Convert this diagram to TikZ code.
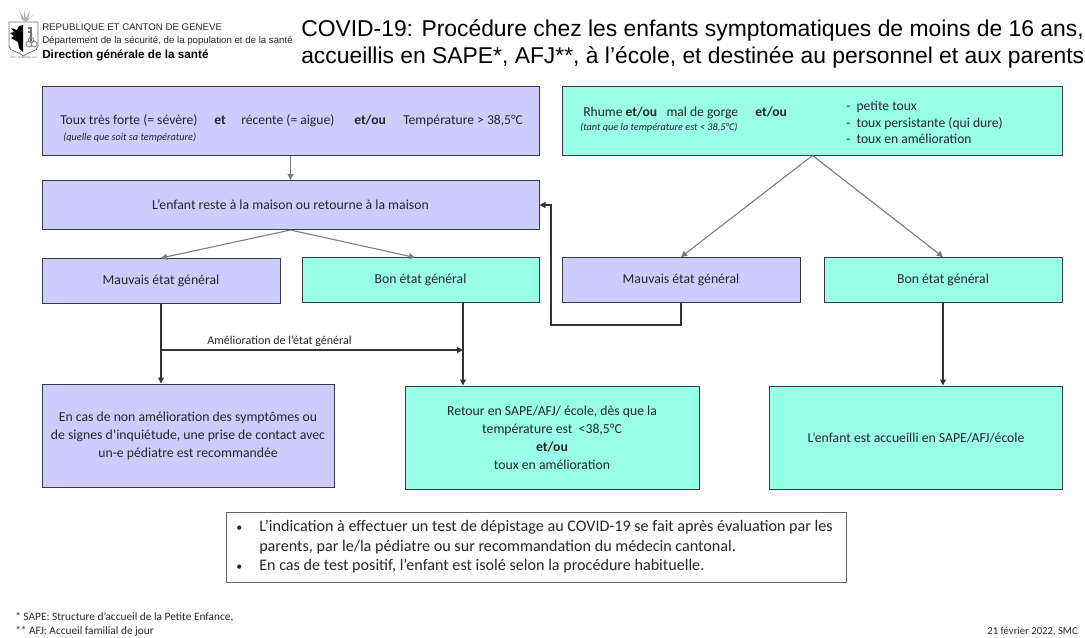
\documentclass[tikz,border=0pt]{standalone}
\usepackage{fontspec}
\setmainfont{Carlito}
\newfontfamily\arialf{Liberation Sans}
\usetikzlibrary{arrows.meta}
\definecolor{lilac}{HTML}{CCCCFF}
\definecolor{mint}{HTML}{99FFE6}
\definecolor{ink}{HTML}{262626}
\definecolor{edge}{HTML}{3A3A44}
\definecolor{grayline}{HTML}{7A7A7A}
\definecolor{darkline}{HTML}{333333}
\tikzset{
  x=0.75pt,y=-0.75pt,
  sz/.style 2 args={minimum width=#1*0.75pt,minimum height=#2*0.75pt},
  base/.style={draw=edge,line width=0.75pt,inner sep=0pt,align=center,text=ink,font=\fontsize{10.3}{13.4}\selectfont},
  lilacbox/.style={base,fill=lilac},
  mintbox/.style={base,fill=mint},
  txt/.style={anchor=base west,inner sep=0pt,text=ink,font=\fontsize{10.2}{12}\selectfont},
  boldtxt/.style={txt,font=\bfseries\fontsize{10.2}{12}\selectfont},
  smalltxt/.style={anchor=base west,inner sep=0pt,text=ink,font=\fontsize{7.7}{9}\itshape\selectfont},
  softarrow/.style={draw=grayline,line width=0.8pt,-{Triangle[length=4.5pt,width=4.5pt]}},
  hardarrow/.style={draw=darkline,line width=0.8pt,-{Triangle[length=4.5pt,width=4.5pt]}},
  headtxt/.style={anchor=west,inner sep=0pt,text=ink,font=\arialf\fontsize{7.25}{8}\selectfont},
  titletxt/.style={anchor=west,inner sep=0pt,text=black,font=\arialf\fontsize{17.15}{20}\selectfont},
  foot/.style={inner sep=0pt,text=ink,font=\fontsize{8.5}{10}\selectfont},
  notetxt/.style={anchor=base west,inner sep=0pt,text=ink,font=\fontsize{12.1}{14}\selectfont},
}
\begin{document}
\begin{tikzpicture}
\useasboundingbox (0,0) rectangle (1085,637);
% logo
\fill[black!30] (24,21) -- (15,14) -- (22,19) -- (19,10) -- (24,18) -- (24,9) -- (26,18) -- (30,10) -- (28,19) -- (34,14) -- (27,21) -- cycle;
\draw[black!55,line width=0.6pt,fill=white] (9,22) -- (38,22) -- (38,46) .. controls (38,52) and (28,51) .. (23.5,56) .. controls (19,51) and (9,52) .. (9,46) -- cycle;
\fill[black] (23,25) -- (23,52) -- (19,48) -- (18,42) -- (11,38) -- (14,36) -- (10,33) -- (14,32) -- (11,28) -- (17,30) -- (19,26) -- cycle;
\draw[black!55,line width=1pt] (31,27) -- (31,41) (28,28) -- (31,28) (28,32) -- (31,32);
\draw[black!50,line width=0.6pt] (29,44) circle (3) (34,44) circle (3) (31,40) circle (2.6);
\node[inner sep=0pt,text=black!60,font=\arialf\fontsize{1.9}{2.5}\selectfont] (motto) at (23.5,58) {POST TENEBRAS LUX};
% header
\node[headtxt] (h1) at (42,28) {REPUBLIQUE ET CANTON DE GENEVE};
\node[headtxt] (h2) at (42,41) {Département de la sécurité, de la population et de la santé};
\node[headtxt,font=\arialf\bfseries\fontsize{8.8}{10}\selectfont,text=black] (h3) at (42,55) {Direction générale de la santé};
\node[titletxt] (t1) at (301,30) {COVID-19: Procédure chez les enfants symptomatiques de moins de 16 ans,};
\node[titletxt] (t2) at (301,57) {accueillis en SAPE*, AFJ**, à l’école, et destinée au personnel et aux parents};
% boxes
\node[lilacbox,sz={497}{69}] (a) at (290.5,120.5) {};
\node[mintbox,sz={500}{69}] (b) at (812.5,120.5) {};
\node[lilacbox,sz={497}{49}] (c) at (290.5,205) {L'enfant reste à la maison ou retourne à la maison};
\node[lilacbox,sz={238}{45}] (d) at (161,281) {Mauvais état général};
\node[mintbox,sz={237}{45}] (e) at (420.5,280) {Bon état général};
\node[lilacbox,sz={238}{45}] (f) at (681,280) {Mauvais état général};
\node[mintbox,sz={238}{45}] (g) at (943,280) {Bon état général};
\node[lilacbox,sz={292}{103}] (h) at (188,435.5) {En cas de non amélioration des symptômes ou\\de signes d'inquiétude, une prise de contact avec\\un-e pédiatre est recommandée};
\node[mintbox,sz={294}{103}] (i) at (552,437.5) {Retour en SAPE/AFJ/ école, dès que la\\température est\ \ <38,5°C\\\textbf{et/ou}\\toux en amélioration};
\node[mintbox,sz={293}{103}] (j) at (916,437.5) {L'enfant est accueilli en SAPE/AFJ/école};
% box a texts
\node[txt] (a1) at (60,124) {Toux très forte (= sévère)};
\node[boldtxt] (a2) at (214,124) {et};
\node[txt] (a3) at (241,124) {récente (= aigue)};
\node[boldtxt] (a4) at (354,124) {et/ou};
\node[txt] (a5) at (403,124) {Température > 38,5°C};
\node[smalltxt] (a6) at (63,140) {(quelle que soit sa température)};
% box b texts
\node[txt] (b1) at (583,116) {Rhume \textbf{et/ou}\ \ \ mal de gorge};
\node[boldtxt] (b2) at (755,116) {et/ou};
\node[smalltxt] (b3) at (580,130) {(tant que la température est < 38,5°C)};
\node[txt] (b4) at (846,110) {-\ \ petite toux};
\node[txt] (b5) at (846,127) {-\ \ toux persistante (qui dure)};
\node[txt] (b6) at (846,143) {-\ \ toux en amélioration};
% connectors
\draw[softarrow] (a.south) -- (c.north);
\draw[softarrow] (c.south) -- (d.north);
\coordinate (etop) at (415,257.5);
\draw[softarrow] (c.south) -- (etop);
\draw[softarrow] (b.south) -- (f.north);
\draw[softarrow] (b.south) -- (g.north);
\draw[hardarrow] (d.south) -- (d.south |- h.north);
\coordinate (eout) at (463,302.5);
\draw[hardarrow] (eout) -- (eout |- i.north);
\coordinate (mleft) at (161,350);
\coordinate (mright) at (463,350);
\draw[hardarrow] (mleft) -- (mright);
\node[inner sep=0pt,text=ink,font=\fontsize{9}{11}\selectfont] (ml) at (279.5,341) {Amélioration de l'état général};
\draw[hardarrow] (g.south) -- (g.south |- j.north);
\coordinate (bk1) at (681,325);
\coordinate (bk2) at (551,325);
\draw[hardarrow] (f.south) -- (bk1) -- (bk2) |- (c.east);
% note
\node[draw=black!60,line width=0.75pt,fill=white,sz={620}{70}] (n) at (536,547) {};
\node[notetxt,font=\fontsize{9}{10}\selectfont] (n0) at (236,531) {•};
\node[notetxt] (n1) at (259,531) {L'indication à effectuer un test de dépistage au COVID-19 se fait après évaluation par les};
\node[notetxt] (n2) at (259,551) {parents, par le/la pédiatre ou sur recommandation du médecin cantonal.};
\node[notetxt,font=\fontsize{9}{10}\selectfont] (n3) at (236,570) {•};
\node[notetxt] (n4) at (259,570) {En cas de test positif, l'enfant est isolé selon la procédure habituelle.};
% footer
\node[foot,anchor=west] (f1) at (15,617) {* SAPE: Structure d'accueil de la Petite Enfance,};
\node[foot,anchor=west] (f2) at (15,631) {** AFJ: Accueil familial de jour};
\node[foot,anchor=east,font=\fontsize{8}{10}\selectfont] (f3) at (1078,631) {21 février 2022, SMC};
\end{tikzpicture}
\end{document}
